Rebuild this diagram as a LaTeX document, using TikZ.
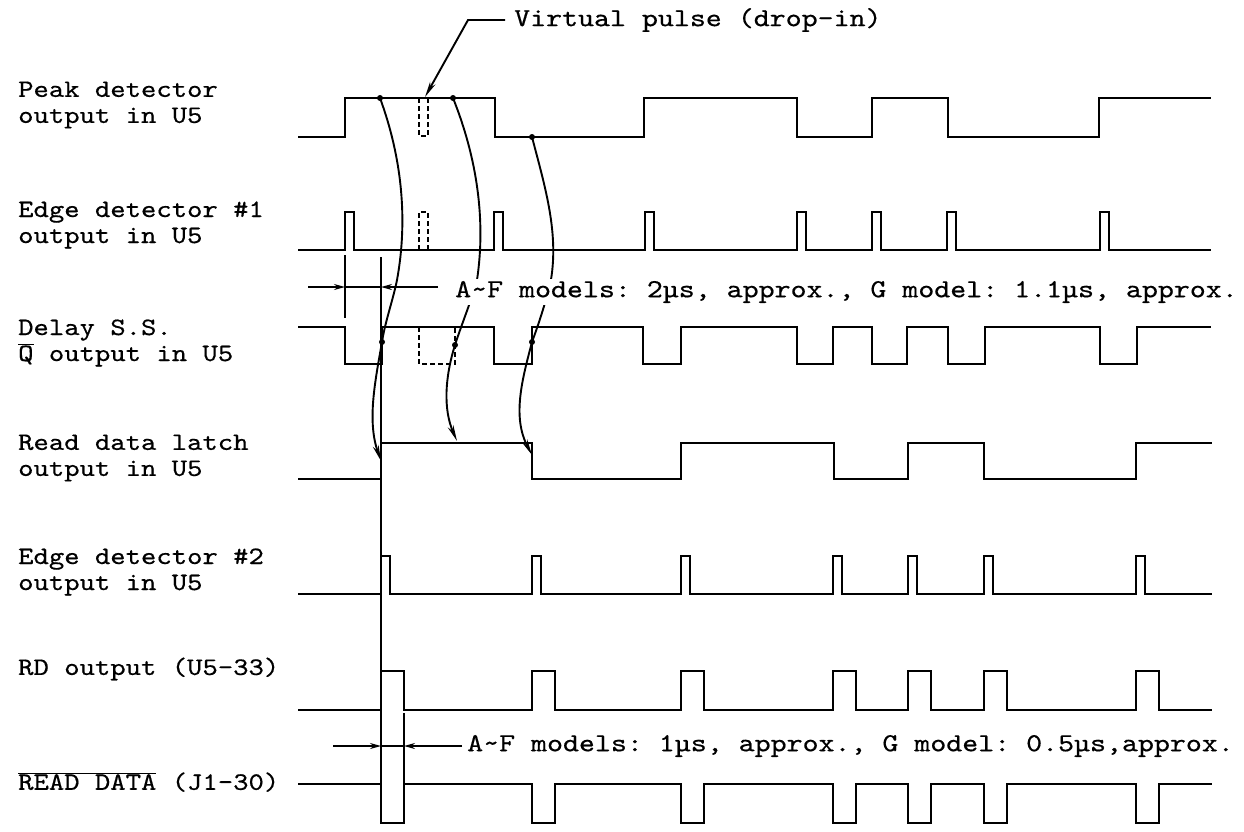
\documentclass[tikz,border=0pt]{standalone}
\usepackage{fontspec}
\setmonofont{lmmono10-regular.otf}[FakeStretch=1.17, FakeBold=0.5]
\usetikzlibrary{arrows.meta}
\tikzset{
  wave/.style={line width=2.5pt, line join=miter},
  ghost/.style={wave, dash pattern=on 5pt off 3pt},
  extline/.style={line width=1.5pt},
  dimline/.style={line width=1.5pt},
  dimarrow/.style={line width=1.5pt, -{Stealth[length=11pt,width=6pt]}},
  causal/.style={line width=1.9pt, -{Stealth[length=16pt,width=6pt]}},
  lead/.style={line width=1.9pt, -{Stealth[length=16pt,width=6pt]}},
  blob/.style={circle, fill, inner sep=0pt, minimum size=6pt},
  sig/.style={font=\ttfamily\fontsize{25}{26}\selectfont, align=left, anchor=west, inner sep=0pt},
  note/.style={font=\ttfamily\fontsize{26}{27}\selectfont, anchor=west, fill=white, inner sep=2pt}
}
\begin{document}
\begin{tikzpicture}[x=1pt, y=-1pt]
  \useasboundingbox (0,0) rectangle (1244,831);

  % signal names
  \node[sig] (lpeak) at (18,105) {Peak detector\\output in U5};
  \node[sig] (ledge1) at (18,225) {Edge detector \#1\\output in U5};
  \node[sig] (ldelay) at (18,343) {Delay S.S.\\$\overline{\hbox{Q}}$ output in U5};
  \node[sig] (llatch) at (18,458) {Read data latch\\output in U5};
  \node[sig] (ledge2) at (18,572) {Edge detector \#2\\output in U5};
  \node[sig] (lrd) at (18,669) {RD output (U5-33)};
  \node[sig] (lread) at (18,782) {$\overline{\hbox{READ DATA}}$ (J1-30)};

  % peak detector
  \draw[wave] (298,137) -| (345,98) -| (495,137) -| (644,98) -| (797,137) -| (872,98)
    -| (948,137) -| (1099,98) -- (1211,98);
  \draw[ghost] (419,98) |- (428,136) -- (428,98);

  % edge detector #1
  \draw[wave] (298,250) foreach \t in {345,494,645,797,872,947,1100} { -| (\t,212) -| (\t+9,250) }
    -- (1211,250);
  \draw[ghost] (419,250) |- (428,212) -- (428,250);

  % delay one-shot
  \draw[wave] (298,327) -| (345,364) -| (382,327) -| (494,364) -| (532,327) -| (643,364)
    -| (681,327) -| (797,364) -| (833,327) -| (872,364) -| (907,327) -| (948,364)
    -| (985,327) -| (1100,364) -| (1137,327) -- (1211,327);
  \draw[ghost] (419,327) |- (455,364) -- (455,327);

  % read data latch
  \draw[wave] (298,479) -| (381,443) -| (532,479) -| (681,443) -| (834,479) -| (908,443)
    -| (984,479) -| (1136,443) -- (1212,443);

  % edge detector #2
  \draw[wave] (298,594) foreach \t in {381,532,681,833,908,984,1136} { -| (\t,556) -| (\t+9,594) }
    -- (1212,594);

  % RD output
  \draw[wave] (298,710) foreach \t in {381,532,681,833,908,984,1136} { -| (\t,671) -| (\t+23,710) }
    -- (1212,710);

  % READ DATA
  \draw[wave] (298,784) foreach \t in {381,532,681,833,908,984,1136} { -| (\t,823) -| (\t+23,784) }
    -- (1212,784);

  % extension lines
  \coordinate (e1top) at (345,255);
  \coordinate (e1bot) at (345,318);
  \coordinate (e2top) at (381,257);
  \coordinate (e2bot) at (381,784);
  \coordinate (e3top) at (404,713);
  \coordinate (e3bot) at (404,784);
  \draw[extline] (e1top) -- (e1bot);
  \draw[extline] (e2top) -- (e2bot);
  \draw[extline] (e3top) -- (e3bot);

  % dots and curved arrows
  \node[blob] (p1) at (380,98) {};
  \node[blob] (p2) at (453,98) {};
  \node[blob] (p3) at (532,137) {};
  \node[blob] (q1) at (382,342) {};
  \node[blob] (q2) at (455,345) {};
  \node[blob] (q3) at (532,342) {};
  \coordinate (t1) at (381,461);
  \coordinate (t2) at (457,441);
  \coordinate (t3) at (532,455);
  \draw[causal] (p1.center) .. controls (402,158) and (408,220) .. (397,280)
    .. controls (393,300) and (385,322) .. (q1.center)
    .. controls (375,382) and (367,421) .. (t1);
  \draw[causal] (p2.center) .. controls (477,158) and (486,220) .. (477,280)
    .. controls (471,302) and (462,323) .. (q2.center)
    .. controls (445,377) and (443,409) .. (t2);
  \draw[causal] (p3.center) .. controls (545,187) and (560,235) .. (550,285)
    .. controls (545,304) and (539,323) .. (q3.center)
    .. controls (522,380) and (512,417) .. (t3);

  % virtual pulse callout
  \node[note, fill=none, inner xsep=9pt] (vp) at (505,20) {Virtual pulse (drop-in)};
  \coordinate (vpk) at (468,20);
  \coordinate (vpt) at (425,97);
  \draw[lead] (vp.west) -- (vpk) -- (vpt);

  % delay width
  \coordinate (d1l) at (308,287);
  \coordinate (d1a) at (345,287);
  \coordinate (d1b) at (381,287);
  \coordinate (d1r) at (438,287);
  \draw[dimline] (d1a) -- (d1b);
  \draw[dimarrow] (d1l) -- (d1a);
  \draw[dimarrow] (d1r) -- (d1b);
  \node[note] (n1) at (453,292) {A\textasciitilde F models: 2µs, approx., G model: 1.1µs, approx.};

  % RD pulse width
  \coordinate (d2l) at (333,746);
  \coordinate (d2a) at (381,746);
  \coordinate (d2b) at (404,746);
  \coordinate (d2r) at (462,746);
  \draw[dimline] (d2a) -- (d2b);
  \draw[dimarrow] (d2l) -- (d2a);
  \draw[dimarrow] (d2r) -- (d2b);
  \node[note] (n2) at (465,746) {A\textasciitilde F models: 1µs, approx., G model: 0.5µs,approx.};
\end{tikzpicture}
\end{document}
